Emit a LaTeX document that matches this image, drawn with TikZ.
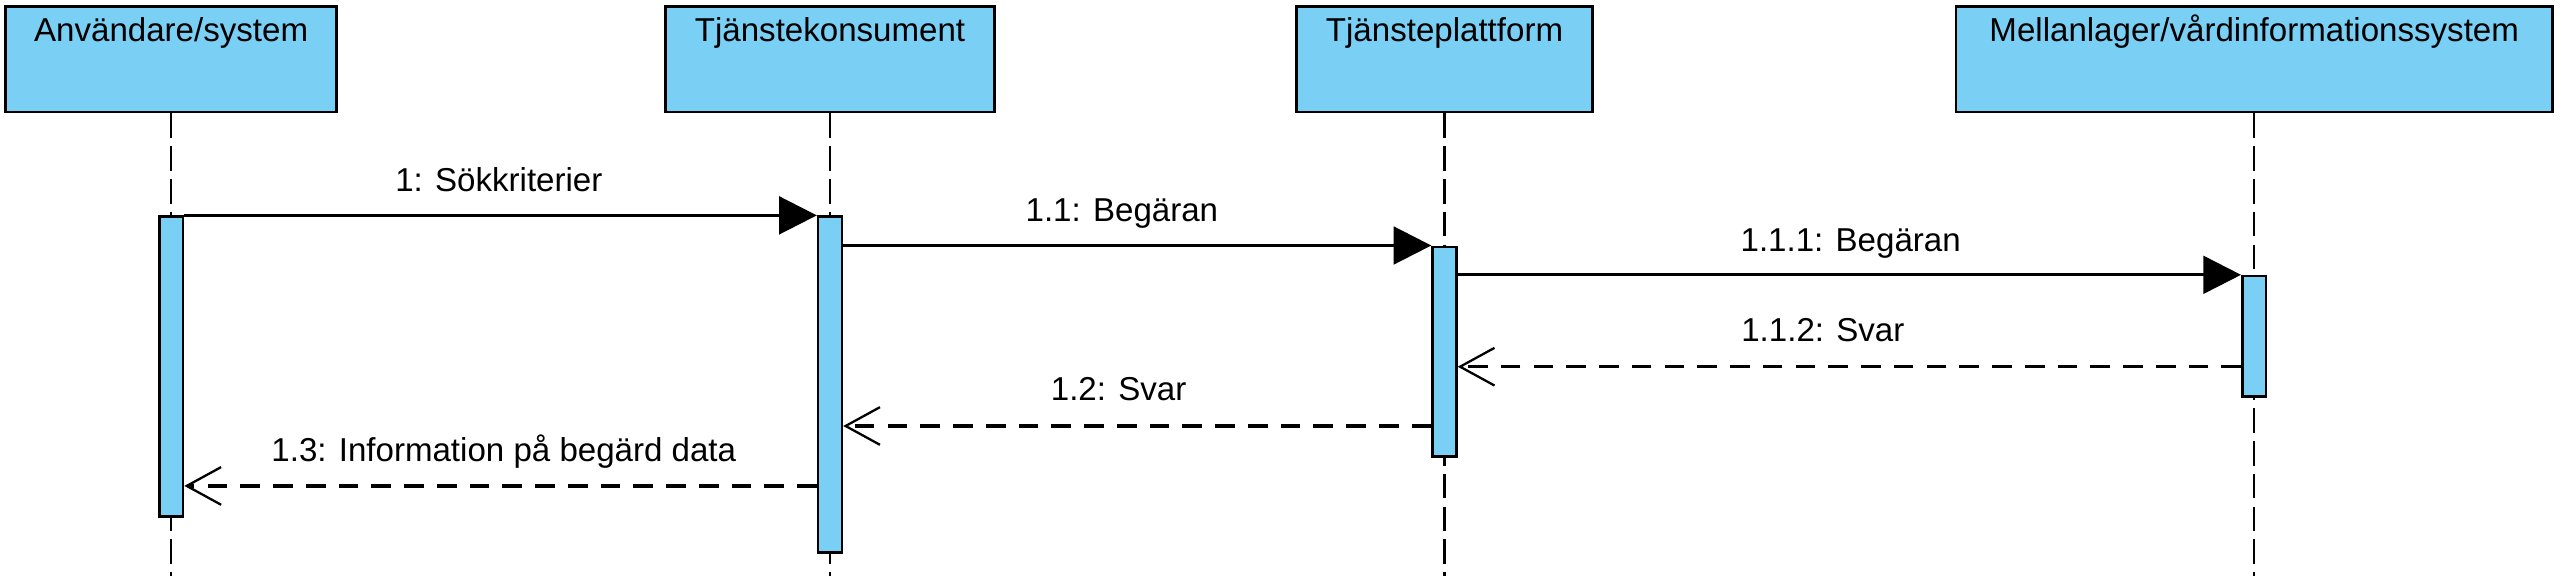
\documentclass[tikz,border=0pt]{standalone}
\usepackage{fontspec}
\setmainfont{Liberation Sans}
\usetikzlibrary{arrows.meta}
\definecolor{actblue}{RGB}{122,207,245}
\tikzset{
  titlebox/.style={draw=black, line width=1.8pt, fill=actblue, inner sep=0pt},
  actbox/.style={draw=black, line width=1.6pt, fill=actblue, inner sep=0pt, minimum width=14.5pt},
  lifeline/.style={line width=1.3pt, dash pattern=on 15pt off 5pt},
  callmsg/.style={line width=1.7pt, -{Triangle[length=23pt,width=23pt]}},
  replymsg/.style={line width=2pt, dash pattern=on 12pt off 8pt, -{Straight Barb[length=21pt,width=23pt,line width=1.4pt]}},
  lbl/.style={anchor=base, inner sep=0pt, font=\fontsize{20.2}{24}\selectfont},
}
\begin{document}
\begin{tikzpicture}[x=1pt,y=-1pt]
\useasboundingbox (0,0) rectangle (1568,359);
% title boxes
\node[titlebox, minimum width=201.9pt, minimum height=64.7pt] (b1) at (104.5,36.05) {};
\node[titlebox, minimum width=200.4pt, minimum height=64.7pt] (b2) at (506.8,36.05) {};
\node[titlebox, minimum width=181.2pt, minimum height=64.7pt] (b3) at (882,36.05) {};
\node[titlebox, minimum width=364.2pt, minimum height=64.7pt] (b4) at (1376.4,36.05) {};
\node[lbl] (t1) at (104.5,25.4) {Användare/system};
\node[lbl] (t2) at (506.8,25.4) {Tjänstekonsument};
\node[lbl] (t3) at (882,25.4) {Tjänsteplattform};
\node[lbl] (t4) at (1376.4,25.4) {Mellanlager/vårdinformationssystem};
% lifeline ends
\coordinate (e1) at (104.5,351.7);
\coordinate (e2) at (506.8,351.7);
\coordinate (e3) at (882,351.7);
\coordinate (e4) at (1376.4,351.7);
\draw[lifeline] (b1.south) -- (e1);
\draw[lifeline] (b2.south) -- (e2);
\draw[lifeline] (b3.south) -- (e3);
\draw[lifeline] (b4.south) -- (e4);
% activations
\node[actbox, minimum height=183.2pt] (a1) at (104.5,223.9) {};
\node[actbox, minimum height=205.1pt] (a2) at (506.8,234.85) {};
\node[actbox, minimum height=128.1pt] (a3) at (882,214.75) {};
\node[actbox, minimum height=73.6pt] (a4) at (1376.4,205.4) {};
% message levels
\coordinate (y112) at (0,223.9);
\coordinate (y12) at (0,260.1);
\coordinate (y13) at (0,296.7);
% messages
\draw[callmsg] (a1.north east) -- (a2.north west);
\draw[callmsg] (a2.east |- a3.north) -- (a3.north west);
\draw[callmsg] (a3.east |- a4.north) -- (a4.north west);
\draw[replymsg] (a4.west |- y112) -- (a3.east |- y112);
\draw[replymsg] (a3.west |- y12) -- (a2.east |- y12);
\draw[replymsg] (a2.west |- y13) -- (a1.east |- y13);
% labels
\node[lbl] (l1) at (304.6,117) {1: Sökkriterier};
\node[lbl] (l11) at (685,135.4) {1.1: Begäran};
\node[lbl] (l111) at (1130,153.6) {1.1.1: Begäran};
\node[lbl] (l112) at (1113,208.6) {1.1.2: Svar};
\node[lbl] (l12) at (683,244.8) {1.2: Svar};
\node[lbl] (l13) at (307.6,281.9) {1.3: Information på begärd data};
\end{tikzpicture}
\end{document}
